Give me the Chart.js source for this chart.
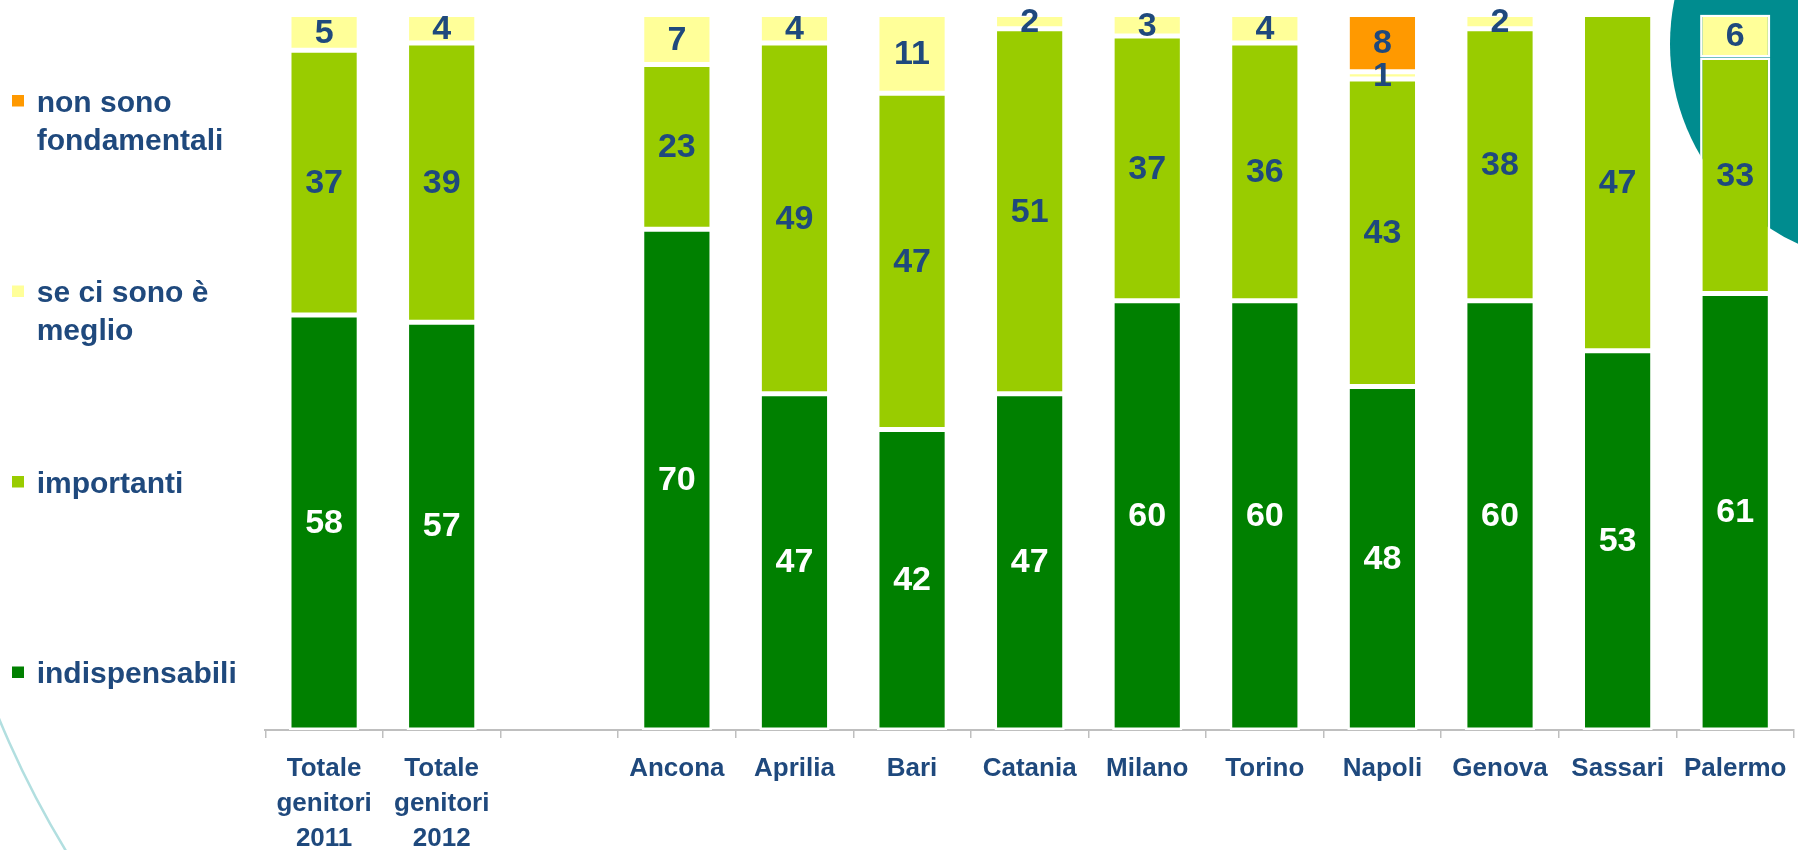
<!DOCTYPE html>
<html><head><meta charset="utf-8">
<script src="https://cdn.jsdelivr.net/npm/chart.js@4"></script>
<style>html,body{margin:0;padding:0;overflow:hidden;background:#fff}#wrap{width:1800px;height:850px;position:relative}</style>
</head><body><div id="wrap"><canvas id="c" width="1800" height="850"></canvas></div>
<script>
const categories = [["Totale","genitori","2011"],["Totale","genitori","2012"],"","Ancona","Aprilia","Bari","Catania","Milano","Torino","Napoli","Genova","Sassari","Palermo"];
const seriesNames = ["indispensabili","importanti","se ci sono è meglio","non sono fondamentali"];
const indispensabili = [58,57,null,70,47,42,47,60,60,48,60,53,61];
const importanti = [37,39,null,23,49,47,51,37,36,43,38,47,33];
const seCiSono = [5,4,null,7,4,11,2,3,4,1,2,null,6];
const nonFondamentali = [null,null,null,null,null,null,null,null,null,8,null,null,null];
const seriesColors = ["#008000","#99CC00","#FFFF99","#FF9900"];
const labelColors = ["#FFFFFF","#1F497D","#1F497D","#1F497D"];

const FONT = '"Liberation Sans", Arial, sans-serif';
const TEXT_BLUE = '#1F497D';

const decorPlugin = {
  id: 'decor',
  beforeDatasetsDraw(chart) {
    const ctx = chart.ctx;
    ctx.save();
    ctx.fillStyle = '#008C8F';
    ctx.beginPath();
    ctx.arc(1890, 44, 220, 0, Math.PI * 2);
    ctx.fill();
    ctx.strokeStyle = '#B2DFE0';
    ctx.lineWidth = 2.5;
    ctx.beginPath();
    ctx.arc(881, 355, 954, Math.PI * 140 / 180, Math.PI * 172 / 180);
    ctx.stroke();
    ctx.restore();
  },
  afterDatasetsDraw(chart) {
    const ctx = chart.ctx;
    ctx.save();
    ctx.font = 'bold 34px ' + FONT;
    ctx.textAlign = 'center';
    ctx.textBaseline = 'middle';
    chart.data.datasets.forEach((ds, i) => {
      const meta = chart.getDatasetMeta(i);
      meta.data.forEach((el, j) => {
        const v = ds.data[j];
        if (v == null || v === 0) return;
        const p = el.getProps(['x', 'y', 'base'], true);
        ctx.fillStyle = labelColors[i];
        ctx.fillText(String(v), p.x, (p.y + p.base) / 2 + 1);
      });
    });
    ctx.restore();
  },
  afterDraw(chart) {
    const ctx = chart.ctx;
    ctx.save();
    ctx.font = 'bold 30px ' + FONT;
    ctx.textAlign = 'left';
    ctx.textBaseline = 'alphabetic';
    const baselines = [111.5, 302, 492.5, 683];
    const order = [3, 2, 1, 0];
    order.forEach((si, k) => {
      const words = seriesNames[si].split(' ');
      const lines = [];
      let cur = '';
      words.forEach(w => {
        const t = cur ? cur + ' ' + w : w;
        if (ctx.measureText(t).width > 240 && cur) { lines.push(cur); cur = w; } else cur = t;
      });
      lines.push(cur);
      const b = baselines[k];
      ctx.fillStyle = seriesColors[si];
      ctx.fillRect(12, b - 16.5, 12, 11.5);
      ctx.fillStyle = TEXT_BLUE;
      lines.forEach((ln, li) => ctx.fillText(ln, 36.7, b + li * 38));
    });
    ctx.restore();
  }
};

const datasetsData = [indispensabili, importanti, seCiSono, nonFondamentali];
new Chart(document.getElementById('c'), {
  type: 'bar',
  data: {
    labels: categories,
    datasets: datasetsData.map((d, i) => ({
      label: seriesNames[i],
      data: d,
      backgroundColor: seriesColors[i],
      borderColor: '#FFFFFF',
      borderWidth: 2.5,
      borderSkipped: false,
      barPercentage: 0.597,
      categoryPercentage: 1
    }))
  },
  options: {
    responsive: false,
    animation: false,
    devicePixelRatio: 1,
    layout: { padding: { left: 265.3, right: 0, top: 14.5, bottom: 0 } },
    plugins: { legend: { display: false }, tooltip: { enabled: false } },
    scales: {
      x: {
        stacked: true,
        grid: { display: true, drawOnChartArea: false, drawTicks: true, tickLength: 8, color: '#BFBFBF', lineWidth: 1.5, offset: true },
        border: { display: true, color: '#BFBFBF', width: 2 },
        ticks: { color: TEXT_BLUE, font: { family: FONT, size: 26, weight: 'bold', lineHeight: 1.35 }, padding: 13.5, maxRotation: 0, minRotation: 0, autoSkip: false },
        afterFit(s) { s.height = 120; }
      },
      y: { stacked: true, display: false, min: 0, max: 100 }
    }
  },
  plugins: [decorPlugin]
});
</script>
</body></html>
